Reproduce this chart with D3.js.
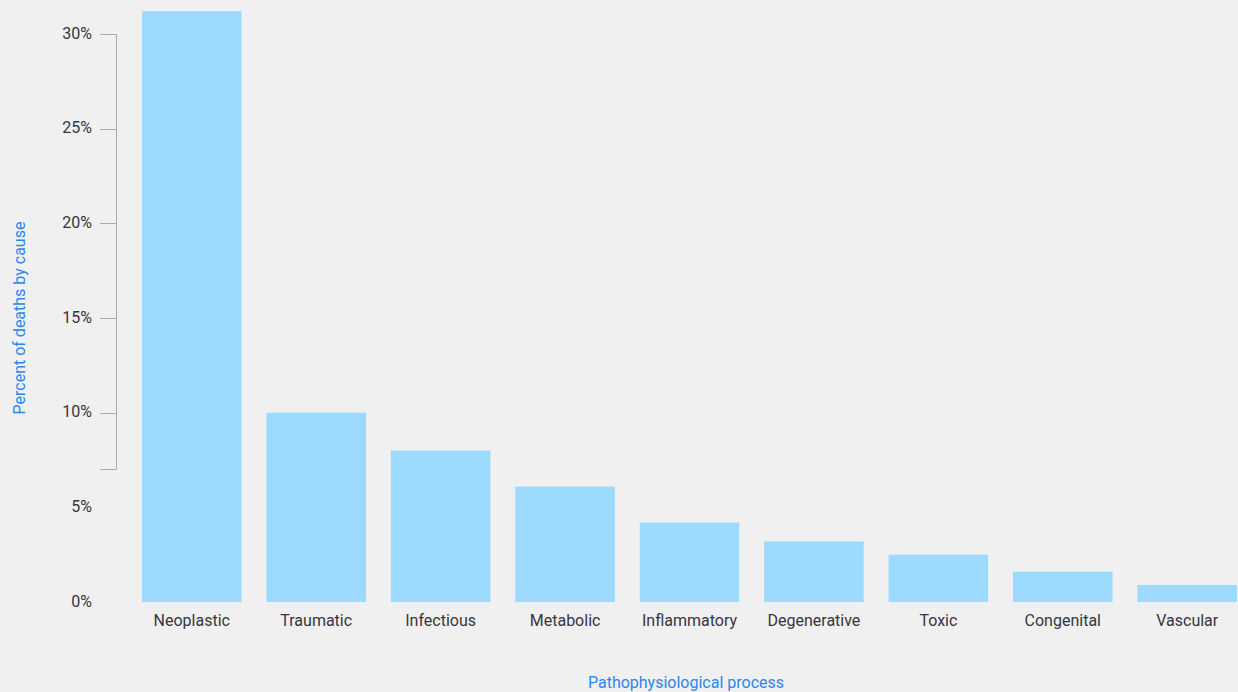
<!DOCTYPE html>
<html>
<head>
<meta charset="utf-8">
<script src="https://cdn.jsdelivr.net/npm/d3@7"></script>
<style>
  html, body { margin: 0; padding: 0; background: #f0f0f0; }
  svg { display: block; font-family: Roboto, "Noto Sans", sans-serif; }
</style>
</head>
<body>
<svg id="chart" width="1238" height="692"></svg>
<script>
const categories = ["Neoplastic", "Traumatic", "Infectious", "Metabolic", "Inflammatory", "Degenerative", "Toxic", "Congenital", "Vascular"];
const values = [31.2, 10.0, 8.0, 6.1, 4.2, 3.2, 2.5, 1.6, 0.9];
const yTicks = [0, 5, 10, 15, 20, 25, 30];
const yTickLines = [10, 15, 20, 25, 30];
const axisLineRange = [7, 30];
const xTitle = "Pathophysiological process";
const yTitle = "Percent of deaths by cause";

const svg = d3.select("#chart");
const W = 1238, H = 692;
svg.append("rect").attr("width", W).attr("height", H).attr("fill", "#f0f0f0");

const x = d3.scaleBand().domain(categories).range([142, 1237]).paddingInner(0.2).paddingOuter(0);
const y = d3.scaleLinear().domain([0, 30]).range([602, 34]);

// bars
svg.append("g").selectAll("rect").data(categories).join("rect")
  .attr("x", d => x(d))
  .attr("y", (d, i) => y(values[i]))
  .attr("width", x.bandwidth())
  .attr("height", (d, i) => y(0) - y(values[i]))
  .attr("fill", "#9cdbfd");

// y axis line and ticks
const axisX = 116.5;
const ax = svg.append("g");
ax.append("path")
  .attr("d", `M${axisX},${y(axisLineRange[0])}V${y(axisLineRange[1])}`)
  .attr("stroke", "#aaaaaa").attr("fill", "none").attr("stroke-width", 1);
ax.selectAll("line.t").data(yTickLines.concat([axisLineRange[0]])).join("line")
  .attr("class", "t")
  .attr("x1", 100).attr("x2", axisX)
  .attr("y1", d => Math.round(y(d)) + 0.5).attr("y2", d => Math.round(y(d)) + 0.5)
  .attr("stroke", "#aaaaaa").attr("stroke-width", 1);
ax.selectAll("text").data(yTicks).join("text")
  .attr("x", 92).attr("y", d => y(d) - 1)
  .attr("dy", "0.35em")
  .attr("text-anchor", "end")
  .attr("font-size", 16)
  .attr("fill", "#36363e")
  .text(d => d + "%");

// x labels
svg.append("g").selectAll("text").data(categories).join("text")
  .attr("x", d => x(d) + x.bandwidth() / 2)
  .attr("y", 626)
  .attr("text-anchor", "middle")
  .attr("font-size", 16)
  .attr("fill", "#36363e")
  .text(d => d);

// titles
svg.append("text")
  .attr("x", 686).attr("y", 688)
  .attr("text-anchor", "middle")
  .attr("font-size", 16)
  .attr("fill", "#2b87f0")
  .text(xTitle);

svg.append("text")
  .attr("transform", "translate(25,318) rotate(-90)")
  .attr("text-anchor", "middle")
  .attr("font-size", 16)
  .attr("fill", "#2b87f0")
  .text(yTitle);
</script>
</body>
</html>
